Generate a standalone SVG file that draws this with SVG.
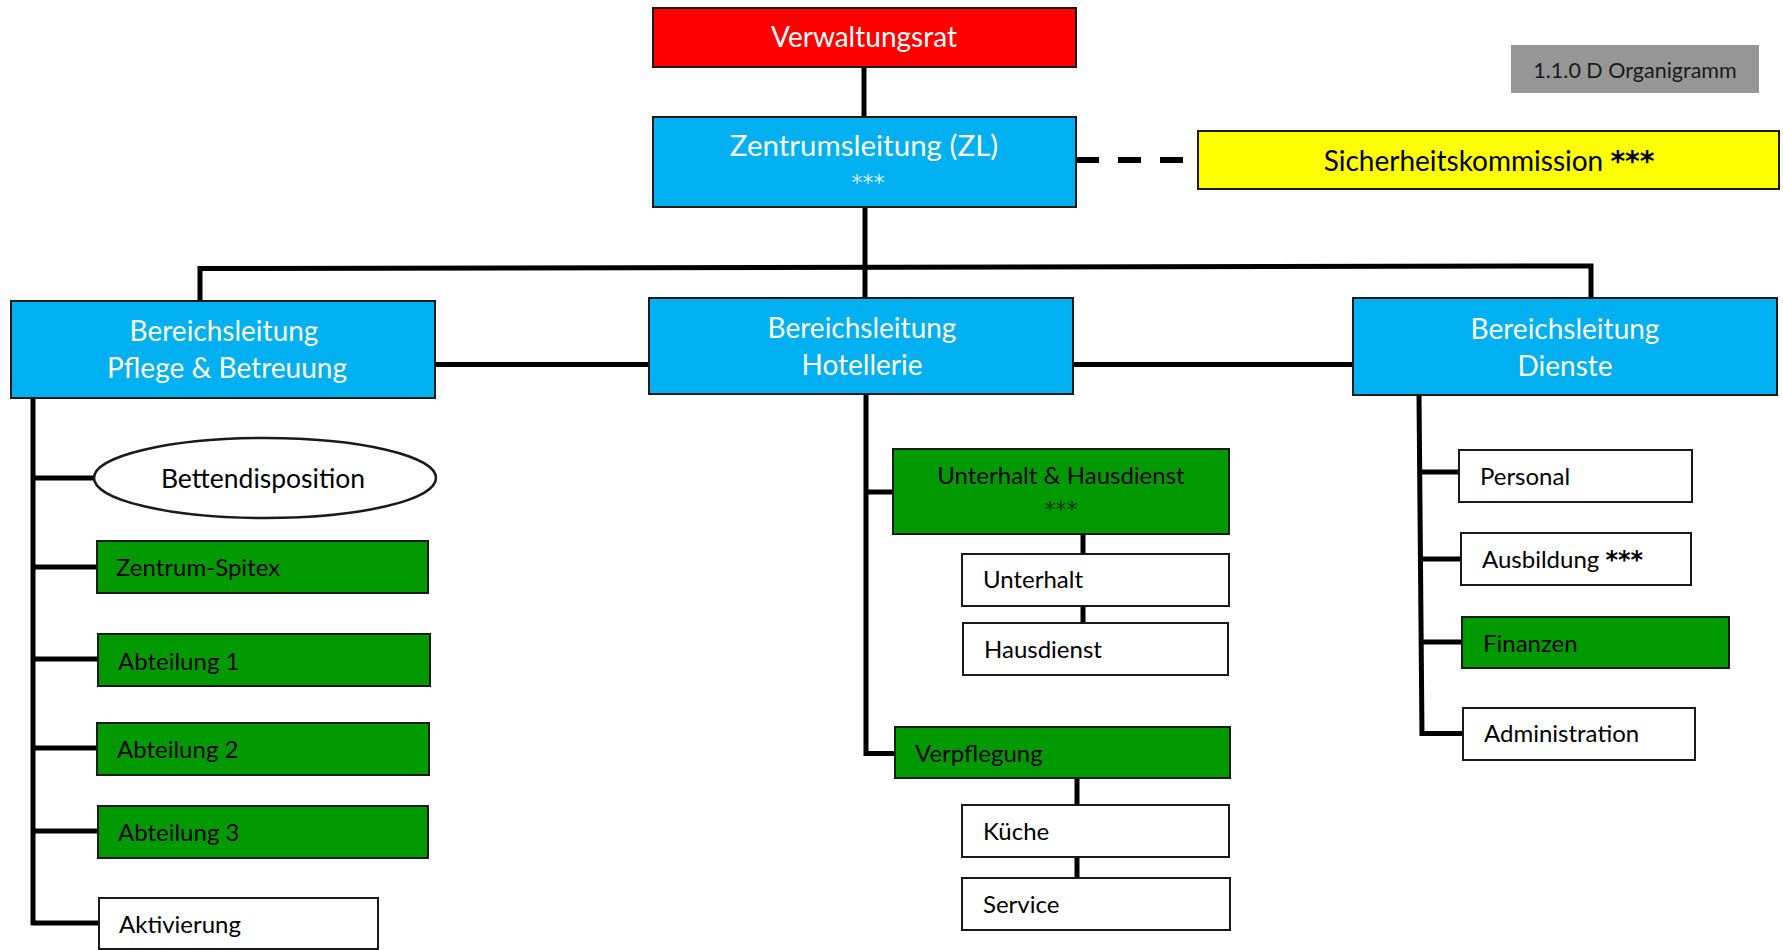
<svg xmlns="http://www.w3.org/2000/svg" width="1783" height="950" viewBox="0 0 1783 950">
<style>
  text { font-family: Lato, "Noto Sans", "Liberation Sans", sans-serif; }
  .box { stroke: #1a1a1a; stroke-width: 2; }
  .red { fill: #FF0000; }
  .blue { fill: #00B0F0; }
  .green { fill: #009900; }
  .white { fill: #FFFFFF; }
  .yellow { fill: #FFFF00; }
  .gray { fill: #969696; }
  .t-big { font-size: 28px; fill: #FFFFFF; text-anchor: middle; }
  .t-node { font-size: 24px; fill: #000000; }
  .t-mid { text-anchor: middle; }
  .stars { font-family: "DejaVu Sans", sans-serif; }
  .stars-b { font-family: "DejaVu Sans", sans-serif; font-weight: bold; }
  .conn { stroke: #000000; stroke-width: 5; fill: none; stroke-linejoin: miter; stroke-linecap: butt; }
  .dash { stroke: #000000; stroke-width: 6; fill: none; stroke-dasharray: 23 19; }
</style>
<rect width="1783" height="950" fill="#FFFFFF"/>

<g id="connectors">
  <line class="conn" x1="864" y1="67" x2="864" y2="117"/>
  <line class="dash" x1="1076" y1="160" x2="1198" y2="160"/>
  <line class="conn" x1="865" y1="207" x2="865" y2="298"/>
  <path class="conn" d="M200 301 V268.5 L1591 266 V298"/>
  <line class="conn" x1="435" y1="364.5" x2="649" y2="364.5"/>
  <line class="conn" x1="1073" y1="364.5" x2="1353" y2="364.5"/>
  <!-- left column -->
  <line class="conn" x1="33" y1="397" x2="33" y2="925"/>
  <line class="conn" x1="33" y1="478" x2="94" y2="478"/>
  <line class="conn" x1="33" y1="567" x2="97" y2="567"/>
  <line class="conn" x1="33" y1="659" x2="98" y2="659"/>
  <line class="conn" x1="33" y1="748" x2="97" y2="748"/>
  <line class="conn" x1="33" y1="831" x2="98" y2="831"/>
  <line class="conn" x1="31" y1="923" x2="99" y2="923"/>
  <!-- middle column -->
  <path class="conn" d="M866 394 V753.5 H895"/>
  <line class="conn" x1="866" y1="492" x2="893" y2="492"/>
  <line class="conn" x1="1083" y1="534" x2="1083" y2="554"/>
  <line class="conn" x1="1083" y1="606" x2="1083" y2="623"/>
  <line class="conn" x1="1077" y1="778" x2="1077" y2="805"/>
  <line class="conn" x1="1077" y1="857" x2="1077" y2="878"/>
  <!-- right column -->
  <path class="conn" d="M1419 395 L1422 736"/>
  <line class="conn" x1="1419" y1="472" x2="1459" y2="472"/>
  <line class="conn" x1="1420" y1="559" x2="1461" y2="559"/>
  <line class="conn" x1="1421" y1="642" x2="1462" y2="642"/>
  <line class="conn" x1="1420" y1="733.5" x2="1463" y2="733.5"/>
</g>

<g id="verwaltungsrat">
  <rect class="box red" x="653" y="8" width="423" height="59"/>
  <text class="t-big" x="864" y="47">Verwaltungsrat</text>
</g>

<g id="zentrumsleitung">
  <rect class="box blue" x="653" y="117" width="423" height="90"/>
  <text class="t-big" x="864" y="156" style="font-size:29.5px">Zentrumsleitung (ZL)</text>
  <text class="stars" x="868" y="190" font-size="22" fill="#DDEEFF" text-anchor="middle">***</text>
</g>

<g id="sicherheitskommission">
  <rect class="box yellow" x="1198" y="131" width="581" height="58"/>
  <text x="1489" y="171" font-size="28" fill="#000000" text-anchor="middle">Sicherheitskommission <tspan class="stars-b">***</tspan></text>
</g>

<g id="titel">
  <rect class="gray" x="1511" y="45" width="248" height="48"/>
  <text x="1635" y="78" font-size="21.5" fill="#1a1a1a" text-anchor="middle">1.1.0 D Organigramm</text>
</g>

<g id="bl-pflege">
  <rect class="box blue" x="11" y="301" width="424" height="97"/>
  <text class="t-big" x="224" y="341">Bereichsleitung</text>
  <text class="t-big" x="227" y="378">Pflege &amp; Betreuung</text>
</g>

<g id="bl-hotellerie">
  <rect class="box blue" x="649" y="298" width="424" height="96"/>
  <text class="t-big" x="862" y="338">Bereichsleitung</text>
  <text class="t-big" x="862" y="375">Hotellerie</text>
</g>

<g id="bl-dienste">
  <rect class="box blue" x="1353" y="298" width="424" height="97"/>
  <text class="t-big" x="1565" y="339">Bereichsleitung</text>
  <text class="t-big" x="1565" y="376">Dienste</text>
</g>

<g id="bettendisposition">
  <ellipse cx="265" cy="478" rx="171" ry="40" fill="#FFFFFF" stroke="#1a1a1a" stroke-width="2.5"/>
  <text class="t-node t-mid" x="263" y="488" style="font-size:26.5px">Bettendisposition</text>
</g>

<g id="zentrum-spitex">
  <rect class="box green" x="97" y="541" width="331" height="52"/>
  <text class="t-node" x="116" y="576">Zentrum-Spitex</text>
</g>
<g id="abteilung-1">
  <rect class="box green" x="98" y="634" width="332" height="52"/>
  <text class="t-node" x="118" y="670">Abteilung 1</text>
</g>
<g id="abteilung-2">
  <rect class="box green" x="97" y="723" width="332" height="52"/>
  <text class="t-node" x="117" y="758">Abteilung 2</text>
</g>
<g id="abteilung-3">
  <rect class="box green" x="98" y="806" width="330" height="52"/>
  <text class="t-node" x="118" y="841">Abteilung 3</text>
</g>
<g id="aktivierung">
  <rect class="box white" x="99" y="898" width="279" height="51"/>
  <text class="t-node" x="119" y="933">Aktivierung</text>
</g>

<g id="unterhalt-hausdienst">
  <rect class="box green" x="893" y="449" width="336" height="85"/>
  <text class="t-node t-mid" x="1061" y="484">Unterhalt &amp; Hausdienst</text>
  <text class="stars" x="1061" y="517" font-size="22" fill="#003300" text-anchor="middle">***</text>
</g>
<g id="unterhalt">
  <rect class="box white" x="962" y="554" width="267" height="52"/>
  <text class="t-node" x="983" y="588">Unterhalt</text>
</g>
<g id="hausdienst">
  <rect class="box white" x="963" y="623" width="265" height="52"/>
  <text class="t-node" x="984" y="658">Hausdienst</text>
</g>
<g id="verpflegung">
  <rect class="box green" x="895" y="727" width="335" height="51"/>
  <text class="t-node" x="915" y="762">Verpflegung</text>
</g>
<g id="kueche">
  <rect class="box white" x="962" y="805" width="267" height="52"/>
  <text class="t-node" x="983" y="840">Küche</text>
</g>
<g id="service">
  <rect class="box white" x="962" y="878" width="268" height="52"/>
  <text class="t-node" x="983" y="913">Service</text>
</g>

<g id="personal">
  <rect class="box white" x="1459" y="450" width="233" height="52"/>
  <text class="t-node" x="1480" y="485">Personal</text>
</g>
<g id="ausbildung">
  <rect class="box white" x="1461" y="533" width="230" height="52"/>
  <text class="t-node" x="1482" y="568">Ausbildung <tspan class="stars-b">***</tspan></text>
</g>
<g id="finanzen">
  <rect class="box green" x="1462" y="617" width="267" height="51"/>
  <text class="t-node" x="1483" y="652">Finanzen</text>
</g>
<g id="administration">
  <rect class="box white" x="1463" y="708" width="232" height="52"/>
  <text class="t-node" x="1484" y="742">Administration</text>
</g>
</svg>
